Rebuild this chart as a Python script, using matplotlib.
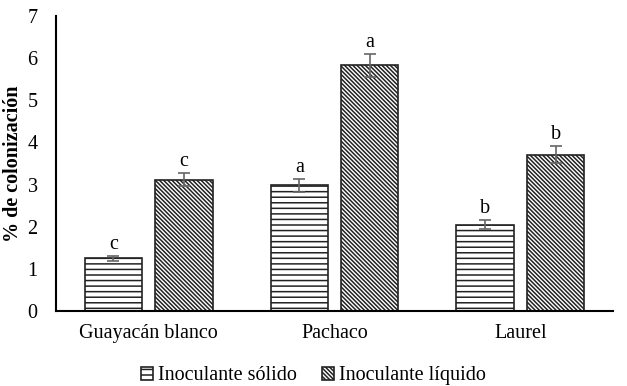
import matplotlib
matplotlib.use("Agg")
import matplotlib.pyplot as plt
import numpy as np

categories = ["Guayacán blanco", "Pachaco", "Laurel"]
series_names = ["Inoculante sólido", "Inoculante líquido"]
solido = [1.25, 2.98, 2.05]
liquido = [3.12, 5.83, 3.71]
solido_err = [0.06, 0.15, 0.10]
liquido_err = [0.16, 0.27, 0.20]
solido_letters = ["c", "a", "b"]
liquido_letters = ["c", "a", "b"]
yticks = [0, 1, 2, 3, 4, 5, 6, 7]

plt.rcParams['font.family'] = ['Liberation Serif', 'DejaVu Serif']
plt.rcParams['hatch.linewidth'] = 1.1

fig = plt.figure(figsize=(6.27, 3.86), dpi=100)
ax = fig.add_axes([0.089, 0.194, 0.889, 0.765])

FS = 14.5
x = np.arange(len(categories))
w = 0.307
off = 0.19
b1 = ax.bar(x - off, solido, w, facecolor='white', edgecolor='#222222', hatch='---',
            linewidth=1.2, label=series_names[0], zorder=2)
b2 = ax.bar(x + off, liquido, w, facecolor='white', edgecolor='#222222', hatch='\\' * 8,
            linewidth=1.2, label=series_names[1], zorder=2)
ax.errorbar(x - off, solido, yerr=solido_err, fmt='none', ecolor='#666666', capsize=4,
            elinewidth=1.2, capthick=1.2, zorder=3)
ax.errorbar(x + off, liquido, yerr=liquido_err, fmt='none', ecolor='#666666', capsize=4,
            elinewidth=1.2, capthick=1.2, zorder=3)
for xi, v, e, t in zip(x - off, solido, solido_err, solido_letters):
    ax.text(xi, v + e + 0.05, t, ha='center', va='bottom', fontsize=FS)
for xi, v, e, t in zip(x + off, liquido, liquido_err, liquido_letters):
    ax.text(xi, v + e + 0.05, t, ha='center', va='bottom', fontsize=FS)

ax.set_xlim(-0.5, 2.5)
ax.set_ylim(0, 7)
ax.set_yticks(yticks)
ax.set_xticks(x)
ax.set_xticklabels(categories)
ax.tick_params(axis='both', length=0, labelsize=FS)
ax.tick_params(axis='x', pad=9)
ax.tick_params(axis='y', pad=13)
for s in ['top', 'right']:
    ax.spines[s].set_visible(False)
ax.spines['left'].set_linewidth(1.5)
ax.spines['bottom'].set_linewidth(1.5)
ax.set_ylabel('% de colonización', fontsize=FS, fontweight='bold')
ax.yaxis.set_label_coords(-0.058, 0.5)

fig.legend(handles=[b1, b2], labels=series_names, loc='lower center', ncol=2,
           frameon=False, fontsize=FS, handlelength=0.6, handleheight=0.6,
           handletextpad=0.25, columnspacing=1.25, bbox_to_anchor=(0.5, -0.045))

fig.savefig('out.png', dpi=100)
